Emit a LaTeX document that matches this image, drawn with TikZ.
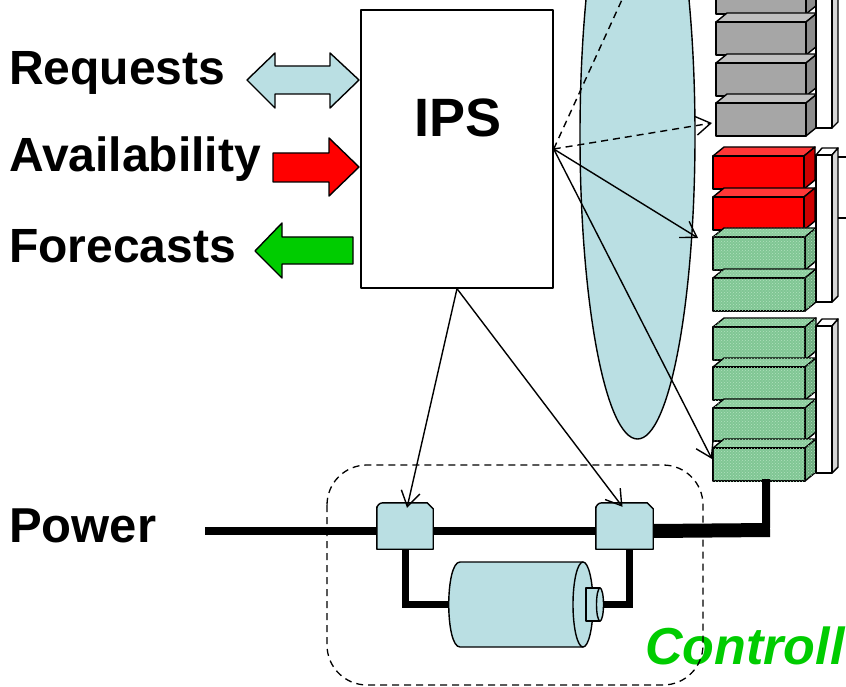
\documentclass[tikz,border=0pt]{standalone}
\usepackage{fontspec}
\setmainfont{Liberation Sans}
\usetikzlibrary{arrows.meta,patterns}

\definecolor{paleblue}{RGB}{186,223,227}
\definecolor{signalgreen}{RGB}{0,204,0}
\definecolor{unitgray}{RGB}{166,166,166}
\definecolor{unitgraytop}{RGB}{192,192,192}
\definecolor{unitgrayside}{RGB}{140,140,140}
\definecolor{unitred}{RGB}{255,0,0}
\definecolor{unitredtop}{RGB}{255,55,55}
\definecolor{unitredside}{RGB}{205,0,0}
\definecolor{unitgreen}{RGB}{128,198,148}
\definecolor{unitgreentop}{RGB}{140,205,158}
\definecolor{unitgreenside}{RGB}{108,172,126}
\definecolor{unitgreentex}{RGB}{178,226,190}
\definecolor{panelside}{RGB}{215,215,215}

\tikzset{
  lbl/.style={inner sep=0pt, font=\bfseries\fontsize{48}{48}\selectfont},
  outline/.style={draw=black, line width=1.4pt, line join=round},
  blk/.style={draw=black, line width=1.4pt, line join=round},
  textured/.style={postaction={pattern=crosshatch dots, pattern color=unitgreentex}},
  link/.style={line width=1.4pt, -{Straight Barb[length=15pt,width=19pt,line width=1.4pt]}},
  dashlink/.style={link, dash pattern=on 7pt off 5pt},
  mains/.style={line width=8pt},
  lead/.style={line width=7pt},
  zone/.style={line width=1.3pt, dash pattern=on 7pt off 5pt, rounded corners=40pt}
}

% one rack unit: front face, top face and right side face
% #1 x, #2 y of front top, #3 width, #4 front, #5 top, #6 side, #7 extra style
\newcommand\rackblock[7]{%
  \filldraw[blk, fill=#5, #7] (#1,#2) -- ++(11,-9) -- ++(#3,0) -- ++(-11,9) -- cycle;
  \filldraw[blk, fill=#6, #7] (#1+#3,#2) -- ++(11,-9) -- ++(0,33) -- ++(-11,9) -- cycle;
  \filldraw[blk, fill=#4, #7] (#1,#2) rectangle ++(#3,33);
}

\begin{document}
\begin{tikzpicture}[x=1pt,y=-1pt]
\useasboundingbox (0,0) rectangle (846,687);

% ---- signal labels and block arrows ----
\node[lbl, anchor=base west] (req) at (9,85) {Requests};
\node[lbl, anchor=base west] (avail) at (9,172) {Availability};
\node[lbl, anchor=base west] (fore) at (9,262) {Forecasts};
\node[lbl, anchor=base west, font=\bfseries\fontsize{49}{49}\selectfont] (pwr) at (9,542) {Power};

\filldraw[outline, fill=paleblue] (247,80) -- (275,53) -- (275,66) -- (330,66) -- (330,53)
  -- (359,80) -- (330,108) -- (330,94) -- (275,94) -- (275,108) -- cycle;
\filldraw[outline, fill=red] (273,153) -- (329,153) -- (329,138) -- (359,167)
  -- (329,196) -- (329,182) -- (273,182) -- cycle;
\filldraw[outline, fill=signalgreen] (255,251) -- (282,223) -- (282,237) -- (353,237)
  -- (353,264) -- (282,264) -- (282,278) -- cycle;

% ---- IPS ----
\node[outline, fill=white, minimum width=192pt, minimum height=278pt, inner sep=0pt] (ips) at (457,149) {};
\node[inner sep=0pt, anchor=base, font=\bfseries\fontsize{54}{54}\selectfont] (ipslbl) at (458,137) {IPS};

% ---- communication cloud and racks (cut at the top edge) ----
\begin{scope}
  \clip (0,0) rectangle (846,687);
  \filldraw[outline, fill=paleblue] (637.5,135) ellipse [x radius=57.5pt, y radius=304pt];

  % gray units
  \foreach \yy in {-19,22,63,103}
    {\rackblock{716}{\yy}{90}{unitgray}{unitgraytop}{unitgrayside}{}}
  \filldraw[blk, fill=panelside] (832,128) -- (838,122) -- (838,-20) -- (832,-20) -- cycle;
  \filldraw[blk, fill=white] (816,-20) rectangle (832,128);

  % red units
  \foreach \yy in {156,197}
    {\rackblock{713}{\yy}{91}{unitred}{unitredtop}{unitredside}{}}
  % green units
  \foreach \yy in {237,278,327,367,408,448}
    {\rackblock{713}{\yy}{92}{unitgreen}{unitgreentop}{unitgreenside}{textured}}

  % side panels
  \filldraw[blk, fill=white] (816,155) -- (822,148) -- (838,148) -- (832,155) -- cycle;
  \filldraw[blk, fill=panelside] (832,155) -- (838,148) -- (838,296) -- (832,302) -- cycle;
  \filldraw[blk, fill=white] (816,155) rectangle (832,302);
  \filldraw[blk, fill=white] (816,326) -- (822,319) -- (838,319) -- (832,326) -- cycle;
  \filldraw[blk, fill=panelside] (832,326) -- (838,319) -- (838,467) -- (832,473) -- cycle;
  \filldraw[blk, fill=white] (816,326) rectangle (832,473);

  \coordinate (busA) at (846,157);
  \coordinate (busB) at (846,218);
  \draw[line width=1.3pt] (838,157) -- (busA);
  \draw[line width=1.3pt] (838,218) -- (busB);

  \coordinate (upper) at (631,-20);
  \draw[line width=1.4pt, dash pattern=on 7pt off 5pt] (ips.east) -- (upper);
\end{scope}

% ---- links from IPS to the units ----
\coordinate (gray4) at (712,123);
\coordinate (green1) at (698,238);
\coordinate (green6) at (712,459);
\draw[dashlink] (ips.east) -- (gray4);
\draw[link] (ips.east) -- (green1);
\draw[link] (ips.east) -- (green6);

% ---- controlled drive ----
\node[inner sep=0pt, anchor=base west, text=signalgreen,
      font=\bfseries\itshape\fontsize{52}{52}\selectfont] (ctl) at (645,664) {Controll};

\node[inner sep=0pt, minimum width=56pt, minimum height=46pt] (swL) at (405,526) {};
\node[inner sep=0pt, minimum width=57pt, minimum height=46pt] (swR) at (624.5,526) {};
\node[inner sep=0pt, minimum width=134pt, minimum height=85pt] (motor) at (516,604.5) {};
\coordinate (shaft) at (602,604);
\coordinate (feed) at (205,531);
\coordinate (rackfoot) at (766,479);

% power line
\draw[mains] (feed) -- (feed -| swL.west);
\draw[mains] (swL.east |- feed) -- (swR.west |- feed);
\draw[line width=14pt] (swR.east |- feed) -- (770,530);
\draw[line width=8pt, rounded corners=4pt] (rackfoot) -- (766,531) -- (760,531);
\draw[lead] (swL.south) |- (motor.west);
\draw[lead] ([xshift=4.5pt, yshift=3pt]swR.south) |- (shaft);

% switches
\foreach \sw in {swL,swR}{
  \filldraw[outline, fill=paleblue]
    (\sw.south west) -- ([yshift=-4pt]\sw.north west)
    [rounded corners=6pt] -- (\sw.north west) [sharp corners]
    -- ([xshift=-6pt]\sw.north east) -- ([yshift=-6pt]\sw.north east)
    -- (\sw.south east) -- cycle;
}

% motor: cylinder body, end face and shaft
\filldraw[outline, fill=paleblue] (460,562) -- (583,562) -- (583,647) -- (460,647)
  .. controls (445,647) and (445,562) .. (460,562) -- cycle;
\filldraw[outline, fill=paleblue] (583,604.5) ellipse [x radius=10pt, y radius=42.5pt];
\filldraw[outline, fill=paleblue] (586,588) -- (600,588) -- (600,621) -- (586,621) -- cycle;
\filldraw[outline, fill=paleblue] (600,604.5) ellipse [x radius=3.5pt, y radius=16.5pt];

\draw[zone] (327,465) rectangle (703,685);

\draw[link] (ips.south) -- ([xshift=2pt, yshift=-5pt]swL.north);
\draw[link] (ips.south) -- ([xshift=-2pt, yshift=-4pt]swR.north);
\end{tikzpicture}
\end{document}
